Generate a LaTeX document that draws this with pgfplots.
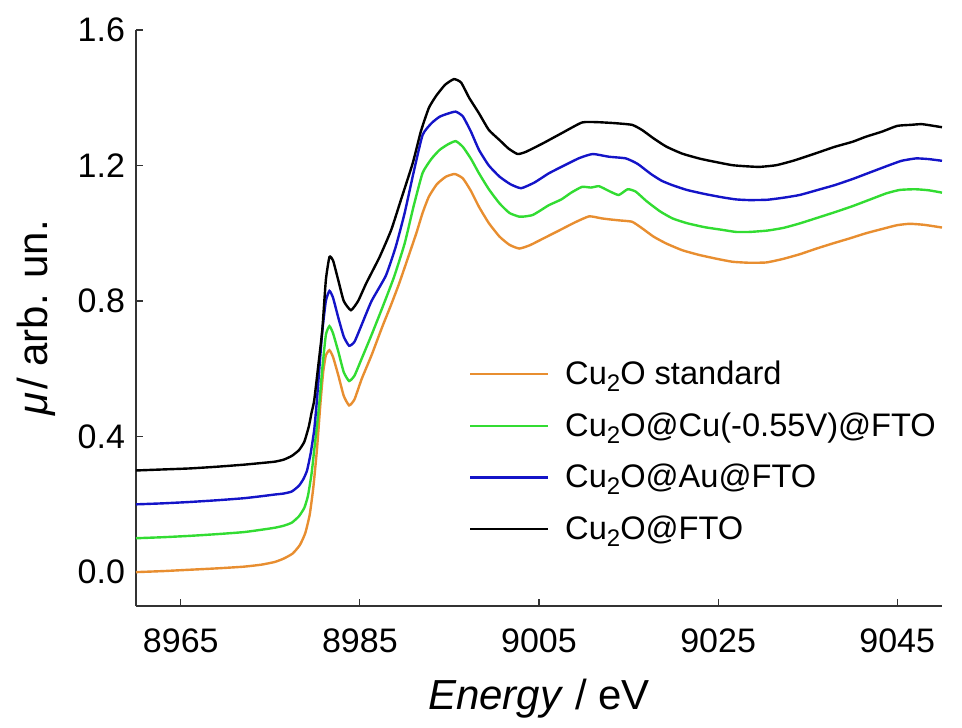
\documentclass[border=0pt]{standalone}
\usepackage{fontspec}
\setmainfont{Liberation Sans}
\usepackage{pgfplots}
\pgfplotsset{compat=1.18}
\usepackage{pgfplotstable}

\definecolor{cstd}{RGB}{232,142,48}
\definecolor{ccu}{RGB}{50,220,50}
\definecolor{cau}{RGB}{20,20,200}

\newcommand{\sub}[1]{\raisebox{-0.4ex}{\fontsize{12}{12}\selectfont #1}}

\pgfplotstableread{
x y
8960 0.000
8963 0.003
8966 0.007
8969 0.011
8972 0.016
8974 0.022
8975.5 0.030
8976.5 0.040
8977.5 0.055
8978.3 0.080
8978.9 0.115
8979.4 0.170
8979.8 0.250
8980.2 0.360
8980.6 0.500
8980.9 0.590
8981.2 0.640
8981.6 0.655
8982.0 0.635
8982.6 0.580
8983.2 0.520
8983.8 0.492
8984.4 0.510
8985.2 0.570
8986.3 0.640
8987.5 0.724
8988.5 0.790
8989.4 0.853
8990.4 0.930
8991.3 1.000
8992.0 1.060
8992.7 1.108
8993.6 1.145
8994.6 1.167
8995.6 1.175
8996.5 1.162
8997.4 1.125
8998.3 1.078
8999.4 1.030
9000.6 0.990
9001.7 0.966
9002.8 0.955
9004.0 0.965
9005.5 0.985
9007.3 1.009
9009.0 1.032
9010.6 1.050
9012.0 1.044
9012.9 1.041
9014.0 1.038
9015.4 1.034
9016.5 1.015
9017.8 0.990
9019.2 0.970
9021.0 0.950
9022.9 0.936
9024.8 0.925
9026.6 0.916
9028.5 0.913
9030.4 0.914
9032.2 0.924
9034.1 0.938
9036.0 0.955
9037.8 0.970
9039.7 0.985
9041.5 1.000
9043.5 1.014
9045.0 1.024
9046.4 1.028
9048.0 1.025
9050.0 1.017
}\stdtable

\pgfplotstableread{
x y
8960 0.100
8963 0.103
8966 0.107
8969 0.112
8972 0.118
8974 0.125
8975.5 0.131
8976.5 0.137
8977.4 0.146
8978.2 0.165
8978.8 0.190
8979.2 0.225
8979.6 0.290
8979.9 0.360
8980.2 0.430
8980.5 0.507
8980.8 0.600
8981.2 0.700
8981.6 0.726
8982.0 0.705
8982.6 0.650
8983.2 0.590
8983.8 0.564
8984.4 0.580
8985.2 0.630
8986.3 0.700
8987.5 0.780
8988.8 0.870
8990.0 0.970
8991.0 1.080
8992.0 1.178
8993.0 1.220
8993.9 1.246
8994.8 1.262
8995.7 1.272
8996.5 1.255
8997.4 1.220
8998.3 1.177
8999.4 1.130
9000.6 1.088
9001.7 1.060
9002.8 1.049
9003.5 1.050
9004.3 1.054
9005.2 1.068
9006.1 1.083
9007.5 1.100
9008.6 1.120
9009.8 1.137
9010.8 1.135
9011.7 1.139
9012.8 1.125
9013.9 1.113
9014.9 1.130
9015.8 1.123
9017.0 1.095
9018.5 1.065
9019.9 1.044
9021.5 1.030
9023.5 1.018
9025.5 1.010
9027.0 1.004
9028.5 1.004
9030.5 1.008
9032.3 1.016
9034.1 1.029
9036.0 1.045
9038.0 1.062
9040.0 1.080
9042.0 1.100
9043.8 1.118
9045.3 1.128
9047.0 1.130
9048.5 1.127
9050.0 1.120
}\cutable

\pgfplotstableread{
x y
8960 0.200
8963 0.203
8966 0.207
8969 0.212
8972 0.218
8974 0.224
8975.5 0.229
8976.5 0.232
8977.4 0.238
8978.2 0.255
8978.7 0.275
8979.1 0.300
8979.5 0.350
8979.9 0.420
8980.2 0.507
8980.5 0.610
8980.8 0.710
8981.2 0.800
8981.6 0.830
8982.0 0.810
8982.6 0.750
8983.2 0.695
8983.8 0.668
8984.4 0.680
8985.2 0.730
8986.3 0.800
8987.9 0.875
8989.0 0.960
8990.0 1.060
8991.0 1.180
8992.0 1.290
8993.0 1.325
8993.9 1.344
8994.8 1.353
8995.7 1.359
8996.5 1.345
8997.4 1.300
8998.3 1.246
8999.4 1.200
9000.6 1.167
9001.8 1.145
9003.0 1.133
9004.5 1.150
9006.1 1.177
9007.8 1.200
9009.5 1.222
9011.0 1.234
9012.8 1.226
9014.7 1.221
9016.0 1.205
9017.5 1.175
9018.7 1.155
9019.9 1.142
9021.5 1.128
9023.5 1.116
9025.5 1.106
9027.0 1.100
9028.5 1.098
9030.5 1.099
9032.3 1.105
9034.1 1.113
9036.0 1.127
9038.0 1.142
9040.0 1.160
9042.0 1.180
9044.0 1.200
9045.5 1.214
9047.1 1.221
9048.5 1.219
9050.0 1.214
}\autable

\pgfplotstableread{
x y
8960 0.300
8963 0.303
8966 0.306
8969 0.311
8972 0.317
8974 0.322
8975.5 0.326
8976.5 0.332
8977.4 0.343
8978.2 0.360
8978.8 0.385
8979.3 0.430
8979.6 0.470
8979.9 0.507
8980.4 0.620
8980.8 0.714
8981.2 0.862
8981.6 0.930
8982.0 0.920
8982.6 0.860
8983.2 0.800
8984.0 0.773
8984.8 0.800
8985.7 0.852
8987.2 0.930
8988.5 1.010
8989.6 1.100
8990.9 1.207
8991.8 1.300
8992.7 1.370
8993.5 1.405
8994.5 1.438
8995.5 1.455
8996.3 1.445
8997.2 1.400
8998.3 1.354
8999.4 1.305
9000.6 1.275
9001.6 1.250
9002.6 1.234
9003.5 1.240
9005.4 1.265
9007.5 1.295
9009.8 1.327
9011.5 1.328
9013.5 1.325
9015.4 1.320
9016.5 1.305
9017.8 1.280
9019.2 1.256
9021.0 1.235
9023.0 1.220
9024.8 1.210
9026.6 1.201
9028.0 1.198
9029.6 1.196
9031.5 1.201
9033.5 1.215
9035.9 1.236
9038.0 1.255
9040.0 1.270
9041.5 1.285
9043.3 1.300
9045.0 1.317
9046.5 1.320
9047.8 1.322
9050.0 1.313
}\ftotable

\begin{document}
\begin{tikzpicture}
\path[use as bounding box] (-68pt,-60.5pt) rectangle (413pt,303pt);
\begin{axis}[
    scale only axis,
    width=403pt, height=288pt,
    xmin=8960, xmax=9050,
    ymin=-0.1, ymax=1.6,
    axis lines*=left,
    axis line style={black!80, line width=0.6pt},
    tick align=inside,
    major tick length=3.5pt,
    tick style={black!80, line width=0.6pt},
    xtick={8965,8985,9005,9025,9045},
    ytick={0,0.4,0.8,1.2,1.6},
    /pgf/number format/assume math mode=true,
    x tick label style={/pgf/number format/1000 sep={}, font=\fontsize{17}{20}\selectfont},
    y tick label style={/pgf/number format/.cd, fixed, fixed zerofill, precision=1, /tikz/.cd, font=\fontsize{17}{20}\selectfont},
    xticklabel style={yshift=-8pt},
    yticklabel style={xshift=-2pt},
    xlabel={\textit{Energy} / eV},
    ylabel={\textit{μ}\hspace{1.5pt}/ arb. un.},
    label style={font=\fontsize{21}{25}\selectfont},
    xlabel style={yshift=-6pt},
    ylabel style={yshift=4pt},
    legend cell align=left,
    legend style={draw=none, fill=none, at={(0.405,0.44)}, anchor=north west,
        font=\fontsize{16.3}{19}\selectfont, row sep=8.5pt},
    legend image code/.code={\draw[#1, line width=1.2pt] (0pt,0pt) -- (39pt,0pt);},
    every axis plot/.append style={line width=1.2pt, smooth, tension=0.3},
]
\addplot[cstd] table[x=x,y=y] {\stdtable};
\addlegendentry{\hspace{6pt}Cu\sub{2}O standard}
\addplot[ccu] table[x=x,y=y] {\cutable};
\addlegendentry{\hspace{6pt}Cu\sub{2}O@Cu(-0.55V)@FTO}
\addplot[cau] table[x=x,y=y] {\autable};
\addlegendentry{\hspace{6pt}Cu\sub{2}O@Au@FTO}
\addplot[black] table[x=x,y=y] {\ftotable};
\addlegendentry{\hspace{6pt}Cu\sub{2}O@FTO}
\end{axis}
\end{tikzpicture}
\end{document}
